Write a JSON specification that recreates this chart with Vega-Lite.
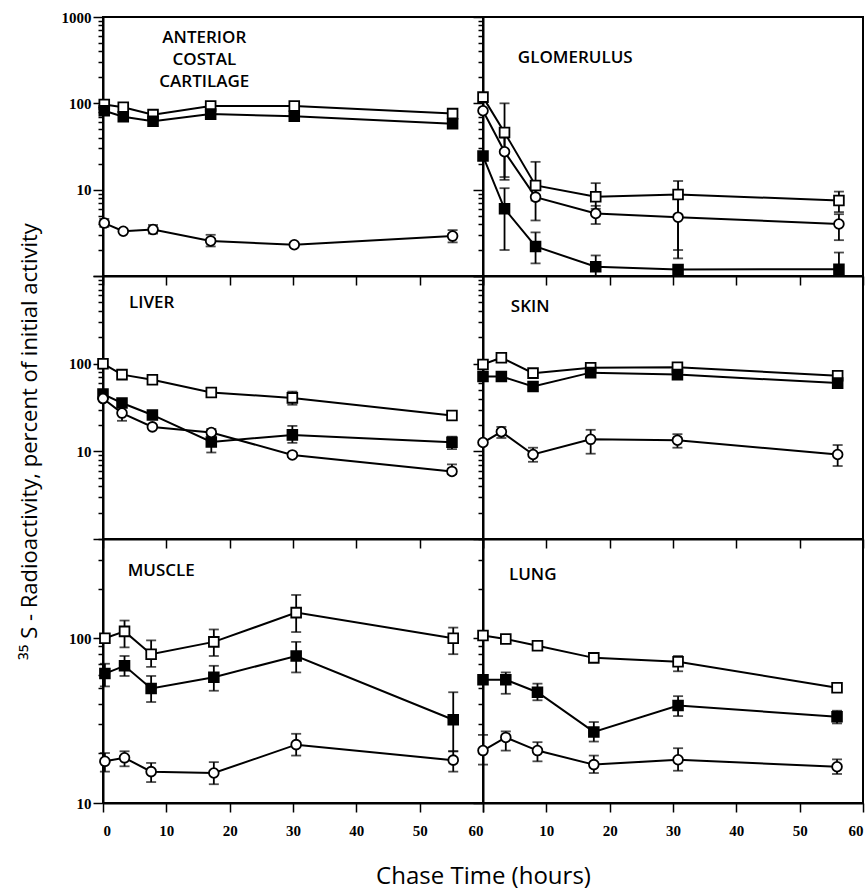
{
  "$schema": "https://vega.github.io/schema/vega-lite/v6.json",
  "background": "white",
  "padding": {"left": 16, "top": 9, "right": 2, "bottom": 2},
  "datasets": {
    "acc": [
      {"s": "o", "t": 0.2, "v": 97}, {"s": "o", "t": 3.2, "v": 90}, {"s": "o", "t": 7.9, "v": 74}, {"s": "o", "t": 17, "v": 93}, {"s": "o", "t": 30.2, "v": 93}, {"s": "o", "t": 55.2, "v": 76},
      {"s": "f", "t": 0.2, "v": 82}, {"s": "f", "t": 3.2, "v": 70}, {"s": "f", "t": 7.9, "v": 62}, {"s": "f", "t": 17, "v": 75}, {"s": "f", "t": 30.2, "v": 71}, {"s": "f", "t": 55.2, "v": 58, "lo": 55, "hi": 82},
      {"s": "c", "t": 0.2, "v": 4.1, "lo": 3.7, "hi": 4.6}, {"s": "c", "t": 3.2, "v": 3.3}, {"s": "c", "t": 7.9, "v": 3.45, "lo": 3.1, "hi": 3.9}, {"s": "c", "t": 17, "v": 2.55, "lo": 2.2, "hi": 3.0}, {"s": "c", "t": 30.2, "v": 2.3}, {"s": "c", "t": 55.2, "v": 2.9, "lo": 2.45, "hi": 3.4}
    ],
    "glom": [
      {"s": "o", "t": 0, "v": 118}, {"s": "o", "t": 3.4, "v": 46, "lo": 14, "hi": 100}, {"s": "o", "t": 8.3, "v": 11.2, "lo": 7.5, "hi": 21}, {"s": "o", "t": 17.8, "v": 8.3, "lo": 6, "hi": 11.9}, {"s": "o", "t": 30.8, "v": 8.8, "lo": 2, "hi": 12.6}, {"s": "o", "t": 56.2, "v": 7.5, "lo": 5.5, "hi": 9.5},
      {"s": "c", "t": 0, "v": 82}, {"s": "c", "t": 3.4, "v": 27.5, "lo": 13, "hi": 40}, {"s": "c", "t": 8.3, "v": 8.2, "lo": 4.4, "hi": 11}, {"s": "c", "t": 17.8, "v": 5.3, "lo": 4.0, "hi": 6.5}, {"s": "c", "t": 30.8, "v": 4.8, "lo": 1.6, "hi": 8}, {"s": "c", "t": 56.2, "v": 4.0, "lo": 2.6, "hi": 5.2},
      {"s": "f", "t": 0, "v": 24.5}, {"s": "f", "t": 3.4, "v": 6.0, "lo": 2.0, "hi": 10.4}, {"s": "f", "t": 8.3, "v": 2.2, "lo": 1.4, "hi": 3.2}, {"s": "f", "t": 17.8, "v": 1.28, "lo": 1.0, "hi": 1.73}, {"s": "f", "t": 30.8, "v": 1.19}, {"s": "f", "t": 56.2, "v": 1.2, "lo": 1.0, "hi": 1.87}
    ],
    "liver": [
      {"s": "o", "t": 0, "v": 100}, {"s": "o", "t": 3, "v": 75}, {"s": "o", "t": 7.8, "v": 65.5}, {"s": "o", "t": 17.1, "v": 47, "lo": 44, "hi": 50}, {"s": "o", "t": 29.9, "v": 40.7, "lo": 34, "hi": 48}, {"s": "o", "t": 55.1, "v": 25.6},
      {"s": "f", "t": 0, "v": 45}, {"s": "f", "t": 3, "v": 35.6, "lo": 33, "hi": 38}, {"s": "f", "t": 7.8, "v": 26}, {"s": "f", "t": 17.1, "v": 12.8, "lo": 9.7, "hi": 15}, {"s": "f", "t": 29.9, "v": 15.4, "lo": 12.5, "hi": 19.5}, {"s": "f", "t": 55.1, "v": 12.7, "lo": 10.6, "hi": 14.7},
      {"s": "c", "t": 0, "v": 40}, {"s": "c", "t": 3, "v": 27.3, "lo": 22.3, "hi": 33}, {"s": "c", "t": 7.8, "v": 19}, {"s": "c", "t": 17.1, "v": 16.4, "lo": 14, "hi": 18}, {"s": "c", "t": 29.9, "v": 9.1, "lo": 8.6, "hi": 9.6}, {"s": "c", "t": 55.1, "v": 5.9, "lo": 5.5, "hi": 7.1}
    ],
    "skin": [
      {"s": "o", "t": 0, "v": 98}, {"s": "o", "t": 2.9, "v": 117}, {"s": "o", "t": 7.9, "v": 78}, {"s": "o", "t": 17, "v": 90}, {"s": "o", "t": 30.7, "v": 91}, {"s": "o", "t": 56, "v": 73},
      {"s": "f", "t": 0, "v": 71.5}, {"s": "f", "t": 2.9, "v": 71.5}, {"s": "f", "t": 7.9, "v": 55}, {"s": "f", "t": 17, "v": 79}, {"s": "f", "t": 30.7, "v": 75}, {"s": "f", "t": 56, "v": 60, "lo": 55, "hi": 75},
      {"s": "c", "t": 0, "v": 12.6}, {"s": "c", "t": 2.9, "v": 16.7, "lo": 14.2, "hi": 19}, {"s": "c", "t": 7.9, "v": 9.2, "lo": 7.6, "hi": 11}, {"s": "c", "t": 17, "v": 13.7, "lo": 9.4, "hi": 17.6}, {"s": "c", "t": 30.7, "v": 13.4, "lo": 11, "hi": 15.7}, {"s": "c", "t": 56, "v": 9.2, "lo": 6.8, "hi": 11.8}
    ],
    "muscle": [
      {"s": "o", "t": 0.3, "v": 100}, {"s": "o", "t": 3.4, "v": 110, "lo": 88, "hi": 128}, {"s": "o", "t": 7.6, "v": 80, "lo": 67, "hi": 97}, {"s": "o", "t": 17.5, "v": 95, "lo": 78, "hi": 113}, {"s": "o", "t": 30.5, "v": 143, "lo": 109, "hi": 183}, {"s": "o", "t": 55.3, "v": 100, "lo": 80, "hi": 116},
      {"s": "f", "t": 0.3, "v": 61, "lo": 51, "hi": 70}, {"s": "f", "t": 3.4, "v": 68, "lo": 59, "hi": 78}, {"s": "f", "t": 7.6, "v": 49.5, "lo": 41, "hi": 59}, {"s": "f", "t": 17.5, "v": 58, "lo": 48, "hi": 68}, {"s": "f", "t": 30.5, "v": 78, "lo": 62, "hi": 95}, {"s": "f", "t": 55.3, "v": 32, "lo": 20.6, "hi": 47},
      {"s": "c", "t": 0.3, "v": 17.9, "lo": 15.5, "hi": 20.1}, {"s": "c", "t": 3.4, "v": 18.8, "lo": 16.7, "hi": 20.6}, {"s": "c", "t": 7.6, "v": 15.5, "lo": 13.4, "hi": 17.5}, {"s": "c", "t": 17.5, "v": 15.2, "lo": 13, "hi": 17.7}, {"s": "c", "t": 30.5, "v": 22.6, "lo": 19.4, "hi": 26.3}, {"s": "c", "t": 55.3, "v": 18.2, "lo": 15.5, "hi": 20.6}
    ],
    "lung": [
      {"s": "o", "t": 0, "v": 104}, {"s": "o", "t": 3.6, "v": 99, "lo": 95, "hi": 103}, {"s": "o", "t": 8.6, "v": 90, "lo": 86, "hi": 94}, {"s": "o", "t": 17.5, "v": 76, "lo": 73, "hi": 79}, {"s": "o", "t": 30.8, "v": 72, "lo": 63, "hi": 78}, {"s": "o", "t": 55.9, "v": 50},
      {"s": "f", "t": 0, "v": 56}, {"s": "f", "t": 3.6, "v": 56, "lo": 46, "hi": 62}, {"s": "f", "t": 8.6, "v": 47, "lo": 42, "hi": 53}, {"s": "f", "t": 17.5, "v": 27, "lo": 23.6, "hi": 31}, {"s": "f", "t": 30.8, "v": 39, "lo": 33.7, "hi": 44.5}, {"s": "f", "t": 55.9, "v": 33.4, "lo": 30.4, "hi": 36.3},
      {"s": "c", "t": 0, "v": 20.8, "lo": 17.1, "hi": 25.9}, {"s": "c", "t": 3.6, "v": 25, "lo": 20.8, "hi": 27.2}, {"s": "c", "t": 8.6, "v": 20.8, "lo": 17.9, "hi": 23.4}, {"s": "c", "t": 17.5, "v": 17.1, "lo": 15.2, "hi": 19.4}, {"s": "c", "t": 30.8, "v": 18.3, "lo": 15.7, "hi": 21.5}, {"s": "c", "t": 55.9, "v": 16.6, "lo": 15, "hi": 18.4}
    ]
  },
  "columns": 2,
  "spacing": 0,
  "bounds": "flush",
  "concat": [
    {
      "width": 380, "height": 259,
      "data": {"name": "acc"},
      "layer": [
        {"mark": {"type": "line", "color": "black", "strokeWidth": 2},
         "encoding": {
           "x": {"field": "t", "type": "quantitative", "scale": {"domain": [0, 60], "nice": false},
                 "axis": {"values": [0,5,10,15,20,25,30,35,40,45,50,55,60], "labels": false, "title": null,
                          "tickSize": {"condition": {"test": "datum.value % 10 === 0", "value": 9}, "value": 5}}},
           "y": {"field": "v", "type": "quantitative", "scale": {"type": "log", "domain": [1, 1000], "nice": false},
                 "axis": {"values": [1,2,3,4,5,6,7,8,9,10,20,30,40,50,60,70,80,90,100,200,300,400,500,600,700,800,900,1000], "format": "d", "title": null,
                          "labelExpr": "(datum.value === 10 || datum.value === 100 || datum.value === 1000) ? datum.label : ''",
                          "tickSize": {"condition": {"test": "datum.value === 1 || datum.value === 10 || datum.value === 100 || datum.value === 1000", "value": 10}, "value": 5}}},
           "detail": {"field": "s", "type": "nominal"}}},
        {"transform": [{"filter": "isValid(datum.lo)"}],
         "mark": {"type": "errorbar", "color": "black", "thickness": 1.8, "ticks": {"size": 10, "thickness": 1.8, "color": "black"}},
         "encoding": {"x": {"field": "t", "type": "quantitative"}, "y": {"field": "lo", "type": "quantitative"}, "y2": {"field": "hi"}}},
        {"mark": {"type": "point", "filled": true, "stroke": "black", "strokeWidth": 1.8, "size": 95, "opacity": 1},
         "encoding": {"x": {"field": "t", "type": "quantitative"}, "y": {"field": "v", "type": "quantitative"},
           "shape": {"field": "s", "type": "nominal", "scale": {"domain": ["o", "f", "c"], "range": ["square", "square", "circle"]}, "legend": null},
           "fill": {"field": "s", "type": "nominal", "scale": {"domain": ["o", "f", "c"], "range": ["white", "black", "white"]}, "legend": null}}},
        {"data": {"values": [{"n": ["ANTERIOR", "COSTAL", "CARTILAGE"]}]},
         "mark": {"type": "text", "font": "Open Sans", "fontWeight": 600, "fontSize": 17, "align": "center", "baseline": "top", "lineHeight": 22, "color": "black"},
         "encoding": {"x": {"datum": 16, "type": "quantitative"}, "y": {"datum": 700, "type": "quantitative"}, "text": {"field": "n", "type": "nominal"}}}
      ]
    },
    {
      "width": 380, "height": 259,
      "data": {"name": "glom"},
      "layer": [
        {"mark": {"type": "line", "color": "black", "strokeWidth": 2},
         "encoding": {
           "x": {"field": "t", "type": "quantitative", "scale": {"domain": [0, 60], "nice": false},
                 "axis": {"values": [0,5,10,15,20,25,30,35,40,45,50,55,60], "labels": false, "title": null,
                          "tickSize": {"condition": {"test": "datum.value % 10 === 0", "value": 9}, "value": 5}}},
           "y": {"field": "v", "type": "quantitative", "scale": {"type": "log", "domain": [1, 1000], "nice": false},
                 "axis": {"values": [1,2,3,4,5,6,7,8,9,10,20,30,40,50,60,70,80,90,100,200,300,400,500,600,700,800,900,1000], "labels": false, "title": null,
                          "tickSize": {"condition": {"test": "datum.value === 1 || datum.value === 10 || datum.value === 100 || datum.value === 1000", "value": 10}, "value": 5}}},
           "detail": {"field": "s", "type": "nominal"}}},
        {"transform": [{"filter": "isValid(datum.lo)"}],
         "mark": {"type": "errorbar", "color": "black", "thickness": 1.8, "ticks": {"size": 10, "thickness": 1.8, "color": "black"}},
         "encoding": {"x": {"field": "t", "type": "quantitative"}, "y": {"field": "lo", "type": "quantitative"}, "y2": {"field": "hi"}}},
        {"mark": {"type": "point", "filled": true, "stroke": "black", "strokeWidth": 1.8, "size": 95, "opacity": 1},
         "encoding": {"x": {"field": "t", "type": "quantitative"}, "y": {"field": "v", "type": "quantitative"},
           "shape": {"field": "s", "type": "nominal", "scale": {"domain": ["o", "f", "c"], "range": ["square", "square", "circle"]}, "legend": null},
           "fill": {"field": "s", "type": "nominal", "scale": {"domain": ["o", "f", "c"], "range": ["white", "black", "white"]}, "legend": null}}},
        {"data": {"values": [{"n": "GLOMERULUS"}]},
         "mark": {"type": "text", "font": "Open Sans", "fontWeight": 600, "fontSize": 17, "align": "left", "baseline": "middle", "color": "black"},
         "encoding": {"x": {"datum": 5.5, "type": "quantitative"}, "y": {"datum": 335, "type": "quantitative"}, "text": {"field": "n", "type": "nominal"}}}
      ]
    },
    {
      "width": 380, "height": 263,
      "data": {"name": "liver"},
      "layer": [
        {"mark": {"type": "line", "color": "black", "strokeWidth": 2},
         "encoding": {
           "x": {"field": "t", "type": "quantitative", "scale": {"domain": [0, 60], "nice": false},
                 "axis": {"values": [0,5,10,15,20,25,30,35,40,45,50,55,60], "labels": false, "title": null,
                          "tickSize": {"condition": {"test": "datum.value % 10 === 0", "value": 9}, "value": 5}}},
           "y": {"field": "v", "type": "quantitative", "scale": {"type": "log", "domain": [1, 1000], "nice": false},
                 "axis": {"values": [1,2,3,4,5,6,7,8,9,10,20,30,40,50,60,70,80,90,100,200,300,400,500,600,700,800,900,1000], "format": "d",
                          "title": "³⁵ S - Radioactivity, percent of initial activity", "titleX": -67, "titleY": 165, "titleFontSize": 22, "titleBaseline": "alphabetic",
                          "labelExpr": "(datum.value === 10 || datum.value === 100) ? datum.label : ''",
                          "tickSize": {"condition": {"test": "datum.value === 1 || datum.value === 10 || datum.value === 100 || datum.value === 1000", "value": 10}, "value": 5}}},
           "detail": {"field": "s", "type": "nominal"}}},
        {"transform": [{"filter": "isValid(datum.lo)"}],
         "mark": {"type": "errorbar", "color": "black", "thickness": 1.8, "ticks": {"size": 10, "thickness": 1.8, "color": "black"}},
         "encoding": {"x": {"field": "t", "type": "quantitative"}, "y": {"field": "lo", "type": "quantitative", "title": "³⁵ S - Radioactivity, percent of initial activity"}, "y2": {"field": "hi"}}},
        {"mark": {"type": "point", "filled": true, "stroke": "black", "strokeWidth": 1.8, "size": 95, "opacity": 1},
         "encoding": {"x": {"field": "t", "type": "quantitative"}, "y": {"field": "v", "type": "quantitative", "title": "³⁵ S - Radioactivity, percent of initial activity"},
           "shape": {"field": "s", "type": "nominal", "scale": {"domain": ["o", "f", "c"], "range": ["square", "square", "circle"]}, "legend": null},
           "fill": {"field": "s", "type": "nominal", "scale": {"domain": ["o", "f", "c"], "range": ["white", "black", "white"]}, "legend": null}}},
        {"data": {"values": [{"n": "LIVER"}]},
         "mark": {"type": "text", "font": "Open Sans", "fontWeight": 600, "fontSize": 17, "align": "left", "baseline": "middle", "color": "black"},
         "encoding": {"x": {"datum": 4.1, "type": "quantitative"}, "y": {"datum": 493, "type": "quantitative", "title": "³⁵ S - Radioactivity, percent of initial activity"}, "text": {"field": "n", "type": "nominal"}}}
      ]
    },
    {
      "width": 380, "height": 263,
      "data": {"name": "skin"},
      "layer": [
        {"mark": {"type": "line", "color": "black", "strokeWidth": 2},
         "encoding": {
           "x": {"field": "t", "type": "quantitative", "scale": {"domain": [0, 60], "nice": false},
                 "axis": {"values": [0,5,10,15,20,25,30,35,40,45,50,55,60], "labels": false, "title": null,
                          "tickSize": {"condition": {"test": "datum.value % 10 === 0", "value": 9}, "value": 5}}},
           "y": {"field": "v", "type": "quantitative", "scale": {"type": "log", "domain": [1, 1000], "nice": false},
                 "axis": {"values": [1,2,3,4,5,6,7,8,9,10,20,30,40,50,60,70,80,90,100,200,300,400,500,600,700,800,900,1000], "labels": false, "title": null,
                          "tickSize": {"condition": {"test": "datum.value === 1 || datum.value === 10 || datum.value === 100 || datum.value === 1000", "value": 10}, "value": 5}}},
           "detail": {"field": "s", "type": "nominal"}}},
        {"transform": [{"filter": "isValid(datum.lo)"}],
         "mark": {"type": "errorbar", "color": "black", "thickness": 1.8, "ticks": {"size": 10, "thickness": 1.8, "color": "black"}},
         "encoding": {"x": {"field": "t", "type": "quantitative"}, "y": {"field": "lo", "type": "quantitative"}, "y2": {"field": "hi"}}},
        {"mark": {"type": "point", "filled": true, "stroke": "black", "strokeWidth": 1.8, "size": 95, "opacity": 1},
         "encoding": {"x": {"field": "t", "type": "quantitative"}, "y": {"field": "v", "type": "quantitative"},
           "shape": {"field": "s", "type": "nominal", "scale": {"domain": ["o", "f", "c"], "range": ["square", "square", "circle"]}, "legend": null},
           "fill": {"field": "s", "type": "nominal", "scale": {"domain": ["o", "f", "c"], "range": ["white", "black", "white"]}, "legend": null}}},
        {"data": {"values": [{"n": "SKIN"}]},
         "mark": {"type": "text", "font": "Open Sans", "fontWeight": 600, "fontSize": 17, "align": "left", "baseline": "middle", "color": "black"},
         "encoding": {"x": {"datum": 4.4, "type": "quantitative"}, "y": {"datum": 444, "type": "quantitative"}, "text": {"field": "n", "type": "nominal"}}}
      ]
    },
    {
      "width": 380, "height": 264,
      "data": {"name": "muscle"},
      "layer": [
        {"mark": {"type": "line", "color": "black", "strokeWidth": 2},
         "encoding": {
           "x": {"field": "t", "type": "quantitative", "scale": {"domain": [0, 60], "nice": false},
                 "axis": {"values": [0,5,10,15,20,25,30,35,40,45,50,55,60], "labelPadding": 11,
                          "labelExpr": "datum.value % 10 === 0 ? datum.label : ''",
                          "title": "Chase Time (hours)", "titleX": 380, "titleY": 61, "titleFontSize": 24, "titleAlign": "center", "titleBaseline": "top",
                          "tickSize": {"condition": {"test": "datum.value % 10 === 0", "value": 9}, "value": 5}}},
           "y": {"field": "v", "type": "quantitative", "scale": {"type": "log", "domain": [10, 400], "nice": false},
                 "axis": {"values": [10,20,30,40,50,60,70,80,90,100,200,300,400], "format": "d", "title": null,
                          "labelExpr": "(datum.value === 10 || datum.value === 100) ? datum.label : ''",
                          "tickSize": {"condition": {"test": "datum.value === 10 || datum.value === 100", "value": 10}, "value": 5}}},
           "detail": {"field": "s", "type": "nominal"}}},
        {"transform": [{"filter": "isValid(datum.lo)"}],
         "mark": {"type": "errorbar", "color": "black", "thickness": 1.8, "ticks": {"size": 10, "thickness": 1.8, "color": "black"}},
         "encoding": {"x": {"field": "t", "type": "quantitative"}, "y": {"field": "lo", "type": "quantitative"}, "y2": {"field": "hi"}}},
        {"mark": {"type": "point", "filled": true, "stroke": "black", "strokeWidth": 1.8, "size": 95, "opacity": 1},
         "encoding": {"x": {"field": "t", "type": "quantitative"}, "y": {"field": "v", "type": "quantitative"},
           "shape": {"field": "s", "type": "nominal", "scale": {"domain": ["o", "f", "c"], "range": ["square", "square", "circle"]}, "legend": null},
           "fill": {"field": "s", "type": "nominal", "scale": {"domain": ["o", "f", "c"], "range": ["white", "black", "white"]}, "legend": null}}},
        {"data": {"values": [{"n": "MUSCLE"}]},
         "mark": {"type": "text", "font": "Open Sans", "fontWeight": 600, "fontSize": 17, "align": "left", "baseline": "middle", "color": "black"},
         "encoding": {"x": {"datum": 3.9, "type": "quantitative"}, "y": {"datum": 257, "type": "quantitative"}, "text": {"field": "n", "type": "nominal"}}}
      ]
    },
    {
      "width": 380, "height": 264,
      "data": {"name": "lung"},
      "layer": [
        {"mark": {"type": "line", "color": "black", "strokeWidth": 2},
         "encoding": {
           "x": {"field": "t", "type": "quantitative", "scale": {"domain": [0, 60], "nice": false},
                 "axis": {"values": [0,5,10,15,20,25,30,35,40,45,50,55,60], "labelPadding": 11, "title": null,
                          "labelExpr": "(datum.value % 10 === 0 && datum.value > 0) ? datum.label : ''",
                          "tickSize": {"condition": {"test": "datum.value % 10 === 0", "value": 9}, "value": 5}}},
           "y": {"field": "v", "type": "quantitative", "scale": {"type": "log", "domain": [10, 400], "nice": false},
                 "axis": {"values": [10,20,30,40,50,60,70,80,90,100,200,300,400], "labels": false, "title": null,
                          "tickSize": {"condition": {"test": "datum.value === 10 || datum.value === 100", "value": 10}, "value": 5}}},
           "detail": {"field": "s", "type": "nominal"}}},
        {"transform": [{"filter": "isValid(datum.lo)"}],
         "mark": {"type": "errorbar", "color": "black", "thickness": 1.8, "ticks": {"size": 10, "thickness": 1.8, "color": "black"}},
         "encoding": {"x": {"field": "t", "type": "quantitative"}, "y": {"field": "lo", "type": "quantitative"}, "y2": {"field": "hi"}}},
        {"mark": {"type": "point", "filled": true, "stroke": "black", "strokeWidth": 1.8, "size": 95, "opacity": 1},
         "encoding": {"x": {"field": "t", "type": "quantitative"}, "y": {"field": "v", "type": "quantitative"},
           "shape": {"field": "s", "type": "nominal", "scale": {"domain": ["o", "f", "c"], "range": ["square", "square", "circle"]}, "legend": null},
           "fill": {"field": "s", "type": "nominal", "scale": {"domain": ["o", "f", "c"], "range": ["white", "black", "white"]}, "legend": null}}},
        {"data": {"values": [{"n": "LUNG"}]},
         "mark": {"type": "text", "font": "Open Sans", "fontWeight": 600, "fontSize": 17, "align": "left", "baseline": "middle", "color": "black"},
         "encoding": {"x": {"datum": 4.1, "type": "quantitative"}, "y": {"datum": 243, "type": "quantitative"}, "text": {"field": "n", "type": "nominal"}}}
      ]
    }
  ],
  "config": {
    "view": {"stroke": "black", "strokeWidth": 2},
    "axis": {"domainColor": "black", "domainWidth": 2, "tickColor": "black", "tickWidth": 1.5, "tickSize": 6, "grid": false,
             "labelFont": "Liberation Serif", "labelFontWeight": "bold", "labelFontSize": 15, "labelColor": "black",
             "titleFont": "Open Sans", "titleFontWeight": "normal", "titleColor": "black"}
  }
}
